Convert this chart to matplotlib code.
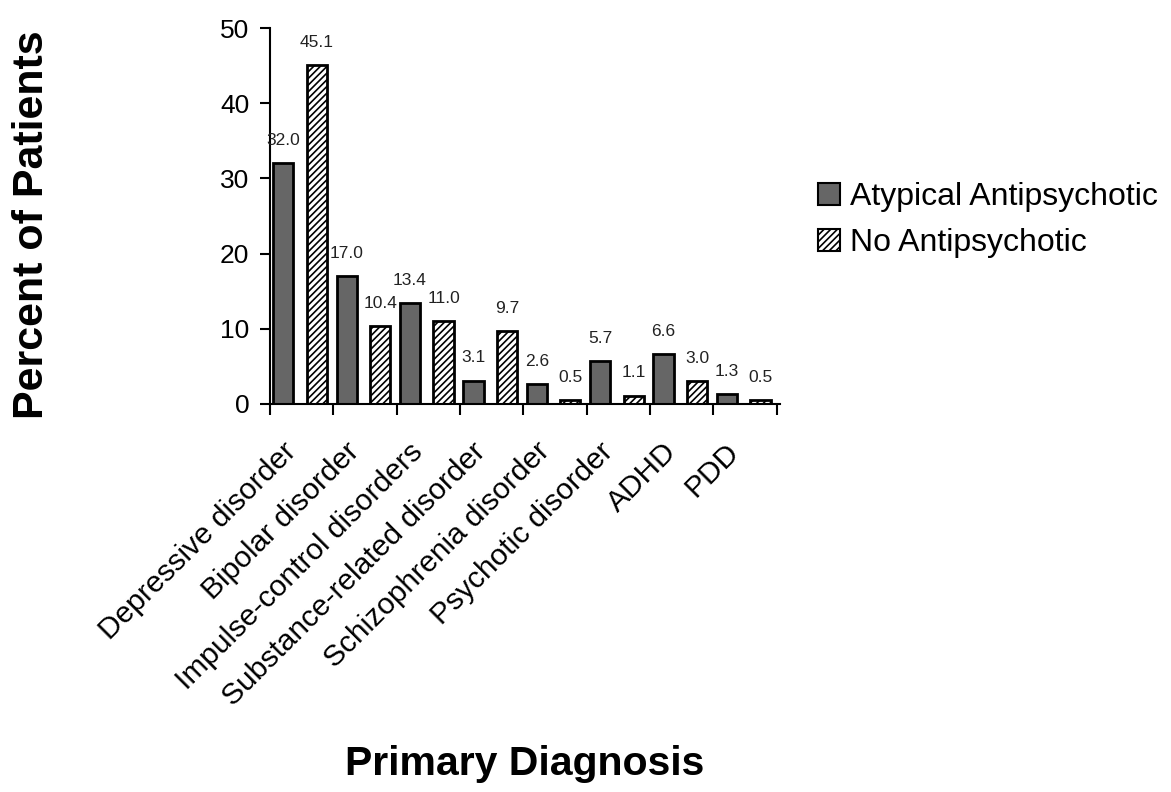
import matplotlib
matplotlib.use("Agg")
import matplotlib.pyplot as plt
from matplotlib.patches import Patch
from matplotlib.transforms import ScaledTranslation
import numpy as np

plt.rcParams['font.family'] = ['Liberation Sans', 'DejaVu Sans']
plt.rcParams['hatch.linewidth'] = 1.2

diagnoses = ["Depressive disorder", "Bipolar disorder", "Impulse-control disorders",
             "Substance-related disorder", "Schizophrenia disorder", "Psychotic disorder",
             "ADHD", "PDD"]
atypical = [32.0, 17.0, 13.4, 3.1, 2.6, 5.7, 6.6, 1.3]
no_antipsychotic = [45.1, 10.4, 11.0, 9.7, 0.5, 1.1, 3.0, 0.5]

fig = plt.figure(figsize=(11.71, 7.92), dpi=100)
ax = fig.add_axes([0.2306, 0.4899, 0.4355, 0.4747])

x = np.arange(len(diagnoses))
w = 0.32
b1 = ax.bar(x + 0.21, atypical, w, color="#666666", edgecolor="black", linewidth=2)
b2 = ax.bar(x + 0.74, no_antipsychotic, w, color="white", edgecolor="black",
            linewidth=2, hatch="/////")

# value labels above each bar
for bars, vals in ((b1, atypical), (b2, no_antipsychotic)):
    for r, v in zip(bars, vals):
        ax.annotate(f"{v:.1f}", (r.get_x() + r.get_width() / 2, v),
                    xytext=(0, 11), textcoords="offset points",
                    ha="center", va="bottom", fontsize=12.5, color="#222222")

ax.set_xlim(0, 8.05)
ax.set_ylim(0, 50)
ax.set_yticks(range(0, 51, 10))
ax.tick_params(axis="y", labelsize=19, length=7, width=1.5, direction="out", pad=8)

# tick marks at category boundaries, labels at centres
ax.set_xticks(np.arange(0, 9), minor=True)
ax.set_xticks(x + 0.5)
ax.set_xticklabels(diagnoses, rotation=45, ha="right", rotation_mode="anchor",
                   fontsize=21.5)
ax.tick_params(axis="x", which="major", length=0, pad=24)
ax.tick_params(axis="x", which="minor", length=8, width=1.5, direction="out")
shift = ScaledTranslation(-20 / 100, 0, fig.dpi_scale_trans)
for lbl in ax.get_xticklabels():
    lbl.set_transform(lbl.get_transform() + shift)

for s in ("top", "right"):
    ax.spines[s].set_visible(False)
ax.spines["left"].set_linewidth(1.5)
ax.spines["bottom"].set_linewidth(1.5)

fig.text(0.027, 0.716, "Percent of Patients", fontsize=31, fontweight="bold",
         rotation=90, ha="center", va="center")
fig.text(0.448, 0.0215, "Primary Diagnosis", fontsize=29.5, fontweight="bold",
         ha="center", va="baseline")

handles = [Patch(facecolor="#666666", edgecolor="black", linewidth=1.5),
           Patch(facecolor="white", edgecolor="black", linewidth=1.5, hatch="/////")]
fig.legend(handles, ["Atypical Antipsychotic", "No Antipsychotic"],
           loc="center left", bbox_to_anchor=(0.674, 0.722), frameon=False,
           fontsize=23, handlelength=0.7, handleheight=0.7, handletextpad=0.3,
           labelspacing=0.5)

fig.savefig("out.png", dpi=100)
